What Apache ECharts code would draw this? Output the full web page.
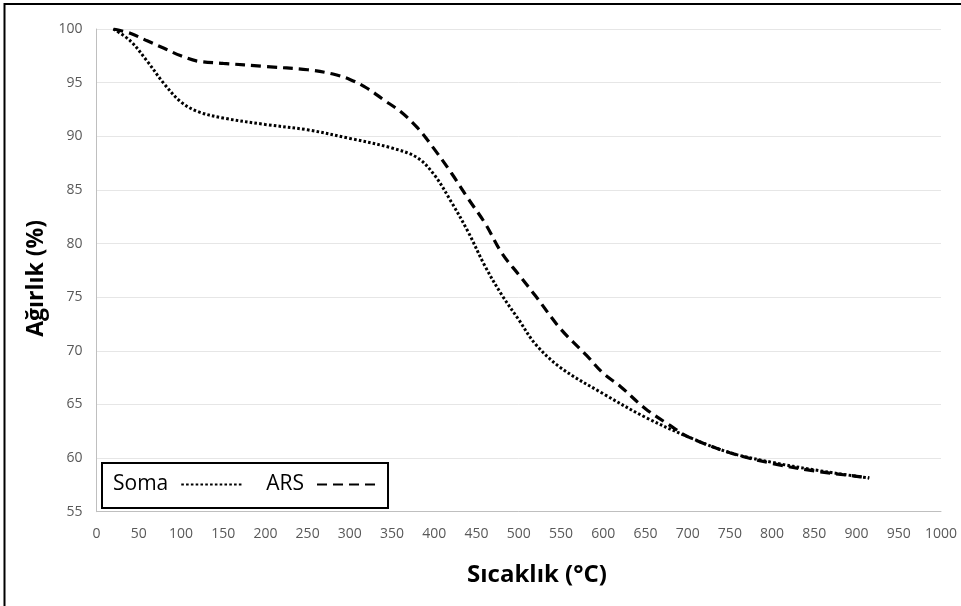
<!DOCTYPE html>
<html>
<head>
<meta charset="utf-8">
<script src="https://cdn.jsdelivr.net/npm/echarts@6/dist/echarts.min.js"></script>
<style>
html,body{margin:0;padding:0;background:#fff;}
#chart{width:961px;height:606px;}
</style>
</head>
<body>
<div id="chart"></div>
<script>
// ---- data ----
const seriesNames = ['Soma', 'ARS'];
const xTitle = 'Sıcaklık (°C)';
const yTitle = 'Ağırlık (%)';
const somaT = [20, 40, 60, 80, 100, 120, 150, 200, 250, 300, 350, 380, 400, 420, 440, 460, 480, 500, 520, 550, 600, 650, 700, 750, 800, 850, 900, 915];
const somaW = [100, 98.9, 97.0, 94.9, 93.2, 92.3, 91.7, 91.1, 90.6, 89.8, 88.9, 88.0, 86.4, 83.9, 81.1, 77.9, 75.2, 72.9, 70.6, 68.4, 66.0, 63.8, 62.0, 60.5, 59.6, 58.9, 58.3, 58.15];
const arsT = [20, 40, 60, 80, 100, 120, 150, 200, 250, 280, 300, 320, 340, 360, 380, 400, 420, 440, 460, 480, 500, 520, 550, 580, 600, 620, 650, 680, 700, 750, 800, 850, 900, 915];
const arsW = [100, 99.6, 98.9, 98.2, 97.5, 97.0, 96.8, 96.5, 96.2, 95.8, 95.3, 94.5, 93.4, 92.3, 90.8, 88.8, 86.6, 84.2, 81.9, 79.1, 77.1, 75.1, 72.0, 69.6, 67.9, 66.7, 64.6, 63.0, 62.0, 60.5, 59.5, 58.8, 58.3, 58.15];
const xMin = 0, xMax = 1000, xStep = 50;
const yMin = 55, yMax = 100, yStep = 5;

const zip = (a, b) => a.map((v, i) => [v, b[i]]);

const chart = echarts.init(document.getElementById('chart'), null, {renderer: 'canvas'});
const font = '"Open Sans", "Noto Sans", sans-serif';
chart.setOption({
  animation: false,
  backgroundColor: '#fff',
  textStyle: {fontFamily: font},
  grid: {left: 96.5, right: 20, top: 29, bottom: 94.3, containLabel: false},
  title: [{
    text: xTitle, left: 532, top: 558, textAlign: 'center',
    textStyle: {fontFamily: font, fontWeight: 'bold', fontSize: 24, color: '#000'}
  }],
  xAxis: {
    type: 'value', min: xMin, max: xMax, interval: xStep,
    axisLine: {show: true, lineStyle: {color: '#bfbfbf', width: 1}},
    axisTick: {show: false},
    splitLine: {show: false},
    axisLabel: {color: '#595959', fontSize: 14, margin: 15, fontFamily: font, formatter: v => String(v)}
  },
  yAxis: {
    type: 'value', min: yMin, max: yMax, interval: yStep,
    name: yTitle, nameLocation: 'middle', nameRotate: 90, nameGap: 48,
    nameTextStyle: {fontFamily: font, fontWeight: 'bold', fontSize: 23, color: '#000', padding: [0, 16, 0, 0]},
    axisLine: {show: true, lineStyle: {color: '#bfbfbf', width: 1}},
    axisTick: {show: false},
    splitLine: {show: true, lineStyle: {color: '#e6e6e6', width: 1}},
    axisLabel: {color: '#595959', fontSize: 14, margin: 14, fontFamily: font}
  },
  legend: {
    left: 102, top: 463,
    align: 'right',
    orient: 'horizontal',
    padding: [11, 8, 13, 11],
    itemGap: 22,
    itemWidth: 62, itemHeight: 14,
    borderColor: '#000', borderWidth: 2,
    backgroundColor: '#fff',
    itemStyle: {opacity: 0},
    textStyle: {fontFamily: font, fontSize: 21, color: '#000', padding: [0, 8, 0, 0]},
    data: seriesNames
  },
  graphic: [{
    type: 'rect', silent: true, z: 100,
    shape: {x: 4.5, y: 4, width: 2000, height: 2000},
    style: {fill: 'none', stroke: '#000', lineWidth: 2}
  }],
  series: [{
    name: seriesNames[0], type: 'line', data: zip(somaT, somaW),
    smooth: 0.35, showSymbol: false, symbol: 'none',
    lineStyle: {color: '#000', width: 3, type: [2.6, 2.2], cap: 'butt'},
    itemStyle: {color: '#000'}
  }, {
    name: seriesNames[1], type: 'line', data: zip(arsT, arsW),
    smooth: 0.35, showSymbol: false, symbol: 'none',
    lineStyle: {color: '#000', width: 3.2, type: [10, 6], cap: 'butt'},
    itemStyle: {color: '#000'}
  }]
});
</script>
</body>
</html>
